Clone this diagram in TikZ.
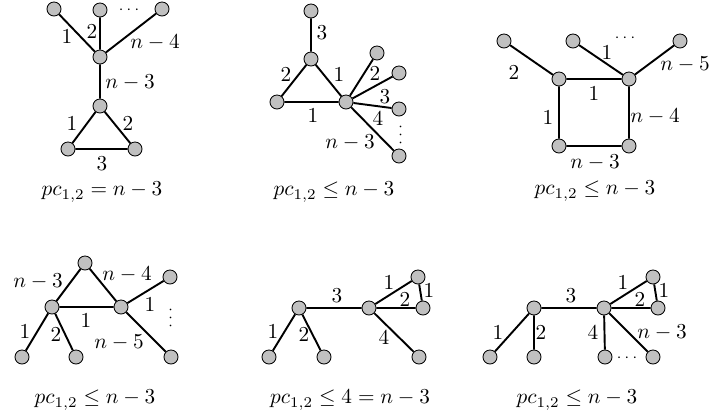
\documentclass[tikz,border=0pt]{standalone}
\definecolor{vgray}{RGB}{192,192,192}
\begin{document}
\begin{tikzpicture}[x=0.47pt,y=-0.47pt,
 vtx/.style={circle,draw=black,line width=0.4pt,fill=vgray,inner sep=0pt,minimum size=6.6pt},
 ed/.style={line width=0.9pt},
 lab/.style={inner sep=0pt},
 dts/.style={inner sep=0pt,font=\scriptsize},
 vdts/.style={inner sep=0pt,font=\scriptsize,rotate=90}]
\useasboundingbox (0,0) rectangle (714,417);
% ---------- graph 1
\node[vtx] (a1) at (54,9) {};
\node[vtx] (a2) at (100,10) {};
\node[vtx] (a3) at (162,9) {};
\node[vtx] (a4) at (100,57) {};
\node[vtx] (a5) at (100,106) {};
\node[vtx] (a6) at (68,149) {};
\node[vtx] (a7) at (135,149) {};
\draw[ed] (a1)--(a4) (a2)--(a4) (a3)--(a4) (a4)--(a5) (a5)--(a6) (a5)--(a7) (a6)--(a7);
\node[lab] (la1) at (67,37) {$1$};
\node[lab] (la2) at (92,32) {$2$};
\node[dts] (la3) at (129,10) {$\cdots$};
\node[lab] (la4) at (155,43) {$n-4$};
\node[lab] (la5) at (130,83) {$n-3$};
\node[lab] (la6) at (72,124) {$1$};
\node[lab] (la7) at (128,124) {$2$};
\node[lab] (la8) at (102,164) {$3$};
\node[lab] (ca) at (102,192) {$pc_{1,2}=n-3$};
% ---------- graph 2
\node[vtx] (b1) at (311,11) {};
\node[vtx] (b2) at (311,59) {};
\node[vtx] (b3) at (277,102) {};
\node[vtx] (b4) at (346,102) {};
\node[vtx] (b5) at (377,53) {};
\node[vtx] (b6) at (399,73) {};
\node[vtx] (b7) at (399,109) {};
\node[vtx] (b8) at (399,156) {};
\draw[ed] (b1)--(b2) (b2)--(b3) (b2)--(b4) (b3)--(b4) (b4)--(b5) (b4)--(b6) (b4)--(b7) (b4)--(b8);
\node[lab] (lb1) at (322,33) {$3$};
\node[lab] (lb2) at (286,75) {$2$};
\node[lab] (lb3) at (339,75) {$1$};
\node[lab] (lb4) at (313,116) {$1$};
\node[lab] (lb5) at (375,74) {$2$};
\node[lab] (lb6) at (385,97) {$3$};
\node[lab] (lb7) at (378,119) {$4$};
\node[vdts] (lb8) at (401,135) {$\cdots$};
\node[lab] (lb9) at (350,143) {$n-3$};
\node[lab] (cb) at (334,192) {$pc_{1,2}\leq n-3$};
% ---------- graph 3
\node[vtx] (c1) at (504,41) {};
\node[vtx] (c2) at (559,79) {};
\node[vtx] (c3) at (629,79) {};
\node[vtx] (c4) at (559,146) {};
\node[vtx] (c5) at (629,146) {};
\node[vtx] (c6) at (573,41) {};
\node[vtx] (c7) at (680,41) {};
\draw[ed] (c1)--(c2) (c2)--(c3) (c2)--(c4) (c3)--(c5) (c4)--(c5) (c6)--(c3) (c7)--(c3);
\node[lab] (lc1) at (514,73) {$2$};
\node[lab] (lc2) at (607,53) {$1$};
\node[dts] (lc3) at (625,38) {$\cdots$};
\node[lab] (lc4) at (685,65) {$n-5$};
\node[lab] (lc5) at (594,94) {$1$};
\node[lab] (lc6) at (548,118) {$1$};
\node[lab] (lc7) at (655,117) {$n-4$};
\node[lab] (lc8) at (595,163) {$n-3$};
\node[lab] (cc) at (595,191) {$pc_{1,2}\leq n-3$};
% ---------- graph 4
\node[vtx] (d1) at (85,263) {};
\node[vtx] (d2) at (52,307) {};
\node[vtx] (d3) at (121,307) {};
\node[vtx] (d4) at (170,277) {};
\node[vtx] (d5) at (171,357) {};
\node[vtx] (d6) at (22,357) {};
\node[vtx] (d7) at (76,357) {};
\draw[ed] (d1)--(d2) (d1)--(d3) (d2)--(d3) (d3)--(d4) (d3)--(d5) (d2)--(d6) (d2)--(d7);
\node[lab] (ld1) at (38,282) {$n-3$};
\node[lab] (ld2) at (127,275) {$n-4$};
\node[lab] (ld3) at (150,305) {$1$};
\node[vdts] (ld4) at (171,318) {$\cdots$};
\node[lab] (ld5) at (86,321) {$1$};
\node[lab] (ld6) at (25,332) {$1$};
\node[lab] (ld7) at (56,335) {$2$};
\node[lab] (ld8) at (119,343) {$n-5$};
\node[lab] (cd) at (95,400) {$pc_{1,2}\leq n-3$};
% ---------- graph 5
\node[vtx] (e1) at (299,308) {};
\node[vtx] (e2) at (369,308) {};
\node[vtx] (e3) at (269,357) {};
\node[vtx] (e4) at (324,357) {};
\node[vtx] (e5) at (419,357) {};
\node[vtx] (e6) at (418,277) {};
\node[vtx] (e7) at (423,308) {};
\draw[ed] (e1)--(e2) (e1)--(e3) (e1)--(e4) (e2)--(e5) (e2)--(e6) (e2)--(e7) (e6)--(e7);
\node[lab] (le1) at (337,296) {$3$};
\node[lab] (le2) at (389,283) {$1$};
\node[lab] (le3) at (405,300) {$2$};
\node[lab] (le4) at (429,291) {$1$};
\node[lab] (le5) at (273,332) {$1$};
\node[lab] (le6) at (304,335) {$2$};
\node[lab] (le7) at (384,338) {$4$};
\node[lab] (ce) at (350,400) {$pc_{1,2}\leq 4=n-3$};
% ---------- graph 6
\node[vtx] (f1) at (534,308) {};
\node[vtx] (f2) at (604,308) {};
\node[vtx] (f3) at (490,357) {};
\node[vtx] (f4) at (534,357) {};
\node[vtx] (f5) at (605,357) {};
\node[vtx] (f6) at (653,357) {};
\node[vtx] (f7) at (653,277) {};
\node[vtx] (f8) at (658,308) {};
\draw[ed] (f1)--(f2) (f1)--(f3) (f1)--(f4) (f2)--(f5) (f2)--(f6) (f2)--(f7) (f2)--(f8) (f7)--(f8);
\node[lab] (lf1) at (571,296) {$3$};
\node[lab] (lf2) at (623,283) {$1$};
\node[lab] (lf3) at (640,300) {$2$};
\node[lab] (lf4) at (664,291) {$1$};
\node[lab] (lf5) at (498,333) {$1$};
\node[lab] (lf6) at (541,333) {$2$};
\node[lab] (lf7) at (593,333) {$4$};
\node[lab] (lf8) at (662,333) {$n-3$};
\node[dts] (lf9) at (627,358) {$\cdots$};
\node[lab] (cf) at (577,400) {$pc_{1,2}\leq n-3$};
\end{tikzpicture}
\end{document}
